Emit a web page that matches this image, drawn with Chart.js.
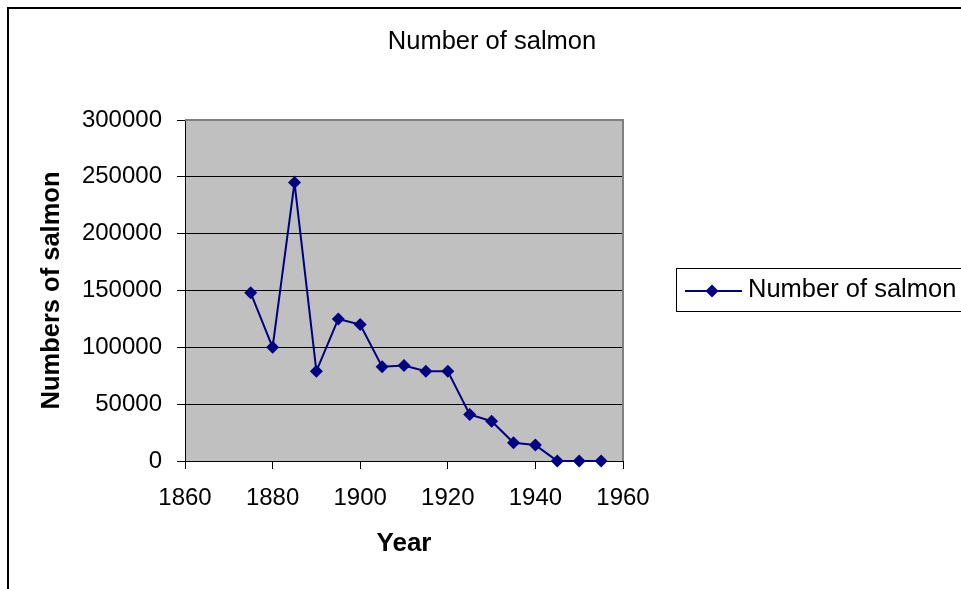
<!doctype html>
<html>

<head>
	<title>Number of salmon</title>
	<script src="https://cdn.jsdelivr.net/npm/chart.js@4/dist/chart.umd.min.js"></script>
	<style>
		html, body {
			margin: 0;
			padding: 0;
			background: #ffffff;
		}
		canvas {
			display: block;
		}
	</style>
</head>

<body>
	<canvas id="canvas" width="961" height="589"></canvas>
	<script>
		const years = [1875, 1880, 1885, 1890, 1895, 1900, 1905, 1910, 1915, 1920, 1925, 1930, 1935, 1940, 1945, 1950, 1955];
		const salmon = [148000, 100000, 245000, 79000, 125000, 120000, 83000, 84000, 79000, 79000, 41000, 35000, 16000, 14000, 0, 0, 0];
		const chartTitle = 'Number of salmon';
		const seriesName = 'Number of salmon';
		const xTitle = 'Year';
		const yTitle = 'Numbers of salmon';

		const FONT = '"Liberation Sans", Arial, sans-serif';
		const NAVY = '#000080';

		// frame, plot background, title, legend
		const excelLook = {
			id: 'excelLook',
			beforeDraw(chart) {
				const ctx = chart.ctx;
				const a = chart.chartArea;
				ctx.save();
				ctx.fillStyle = '#ffffff';
				ctx.fillRect(0, 0, chart.width, chart.height);
				ctx.strokeStyle = '#000000';
				ctx.lineWidth = 2;
				ctx.strokeRect(8, 8, chart.width + 20, chart.height + 20);
				ctx.fillStyle = '#c0c0c0';
				ctx.fillRect(a.left, a.top, a.right - a.left, a.bottom - a.top);
				ctx.fillStyle = '#000000';
				ctx.font = '25.5px ' + FONT;
				ctx.textAlign = 'center';
				ctx.textBaseline = 'middle';
				ctx.fillText(chartTitle, 492, 42);
				ctx.restore();
			},
			beforeDatasetsDraw(chart) {
				const ctx = chart.ctx;
				const a = chart.chartArea;
				ctx.save();
				ctx.strokeStyle = '#808080';
				ctx.lineWidth = 2;
				ctx.beginPath();
				ctx.moveTo(a.left, a.top);
				ctx.lineTo(a.right, a.top);
				ctx.lineTo(a.right, a.bottom);
				ctx.stroke();
				ctx.restore();
			},
			afterDraw(chart) {
				const ctx = chart.ctx;
				ctx.save();
				ctx.strokeStyle = '#000000';
				ctx.lineWidth = 1;
				ctx.strokeRect(676.5, 268.5, 320, 43);
				ctx.strokeStyle = NAVY;
				ctx.lineWidth = 2;
				ctx.beginPath();
				ctx.moveTo(685, 291);
				ctx.lineTo(742, 291);
				ctx.stroke();
				ctx.fillStyle = NAVY;
				ctx.beginPath();
				ctx.moveTo(712, 284.5);
				ctx.lineTo(718.5, 291);
				ctx.lineTo(712, 297.5);
				ctx.lineTo(705.5, 291);
				ctx.closePath();
				ctx.fill();
				ctx.fillStyle = '#000000';
				ctx.font = '25.5px ' + FONT;
				ctx.textAlign = 'left';
				ctx.textBaseline = 'middle';
				ctx.fillText(seriesName, 748, 290);
				ctx.restore();
			}
		};

		const config = {
			type: 'line',
			data: {
				datasets: [{
					label: seriesName,
					data: years.map((y, i) => ({x: y, y: salmon[i]})),
					borderColor: NAVY,
					backgroundColor: NAVY,
					borderWidth: 2,
					pointStyle: 'rectRot',
					pointRadius: 6.5,
					pointBorderWidth: 0,
					pointBackgroundColor: NAVY,
					tension: 0,
					clip: false
				}]
			},
			options: {
				responsive: false,
				animation: false,
				layout: {
					padding: {left: 35, right: 338, top: 120, bottom: 4}
				},
				plugins: {
					legend: {display: false},
					title: {display: false},
					tooltip: {enabled: false}
				},
				scales: {
					x: {
						type: 'linear',
						min: 1860,
						max: 1960,
						afterFit(scale) {
							scale.height = 124;
						},
						ticks: {
							stepSize: 20,
							padding: 15,
							maxRotation: 0,
							color: '#000000',
							font: {family: FONT, size: 24},
							callback: (v) => String(v)
						},
						grid: {
							drawOnChartArea: false,
							drawTicks: true,
							tickLength: 8,
							color: '#000000'
						},
						border: {color: '#000000', width: 1},
						title: {
							display: true,
							text: xTitle,
							color: '#000000',
							font: {family: FONT, size: 26, weight: 'bold'},
							padding: {top: 0, bottom: 26}
						}
					},
					y: {
						min: 0,
						max: 300000,
						afterFit(scale) {
							scale.width = 150;
						},
						ticks: {
							stepSize: 50000,
							padding: 15,
							color: '#000000',
							font: {family: FONT, size: 24},
							callback: (v) => String(v)
						},
						grid: {
							drawOnChartArea: true,
							drawTicks: true,
							tickLength: 8,
							color: '#000000',
							lineWidth: 1
						},
						border: {color: '#000000', width: 1},
						title: {
							display: true,
							text: yTitle,
							color: '#000000',
							font: {family: FONT, size: 25.5, weight: 'bold'},
							padding: {top: 2, bottom: 0}
						}
					}
				}
			},
			plugins: [excelLook]
		};

		window.onload = function() {
			const ctx = document.getElementById('canvas').getContext('2d');
			window.myLine = new Chart(ctx, config);
		};
	</script>
</body>

</html>
